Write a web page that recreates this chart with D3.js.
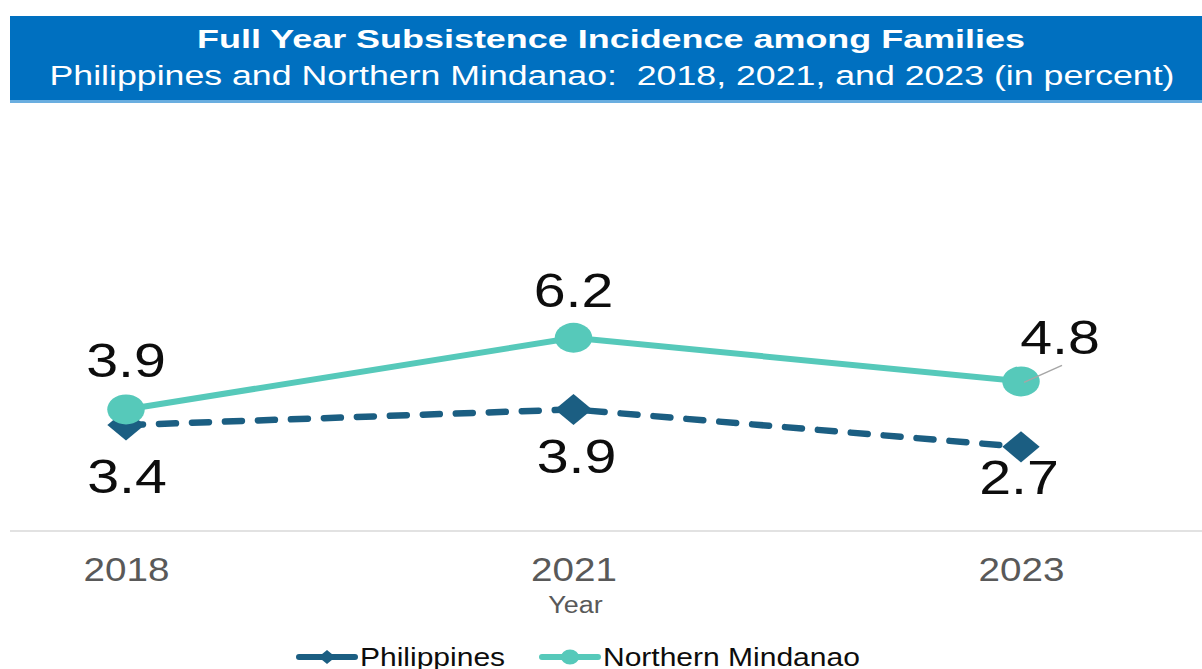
<!DOCTYPE html>
<html>
<head>
<meta charset="utf-8">
<script src="https://cdn.jsdelivr.net/npm/d3@7/dist/d3.min.js"></script>
<style>
  body { margin: 0; background: #fff; }
  svg text { font-family: "Liberation Sans", Arial, sans-serif; white-space: pre; }
</style>
</head>
<body>
<div id="chart"></div>
<script>
var width = 1202;
var height = 669;

var years = ["2018", "2021", "2023"];
var philippines = [3.4, 3.9, 2.7];
var northern = [3.9, 6.2, 4.8];
var seriesNames = ["Philippines", "Northern Mindanao"];
var titleLines = ["Full Year Subsistence Incidence among Families",
                  "Philippines and Northern Mindanao:  2018, 2021, and 2023 (in percent)"];
var xTitle = "Year";

var colPH = "#1b5e82";
var colNM = "#56c9ba";
var SX = 1.17; // the picture's text is a bit wide

var svg = d3.select("#chart")
            .append("svg")
            .attr("width", width)
            .attr("height", height);

// stretch text horizontally like the source
function widen(sel, k) {
  k = k || SX;
  sel.each(function(){
    var len = this.getComputedTextLength();
    d3.select(this).attr("textLength", len * k).attr("lengthAdjust", "spacingAndGlyphs");
  });
}

// title box
svg.append("rect")
   .attr("x", 10).attr("y", 16)
   .attr("width", width - 10).attr("height", 86)
   .attr("fill", "#0070c0");
svg.append("rect")
   .attr("x", 10).attr("y", 100)
   .attr("width", width - 10).attr("height", 3)
   .attr("fill", "#6aaee0");
svg.append("text")
   .attr("x", 611).attr("y", 48)
   .attr("text-anchor", "middle")
   .attr("font-size", 25).attr("font-weight", "bold")
   .attr("fill", "#fff")
   .text(titleLines[0])
   .attr("textLength", 828).attr("lengthAdjust", "spacingAndGlyphs");
svg.append("text")
   .attr("x", 612).attr("y", 85)
   .attr("text-anchor", "middle")
   .attr("font-size", 27)
   .attr("fill", "#fff")
   .text(titleLines[1])
   .attr("textLength", 1125).attr("lengthAdjust", "spacingAndGlyphs");

var xScale = d3.scalePoint()
               .domain(years)
               .range([126, 1021]);
var yScale = d3.scaleLinear()
               .domain([0, 12])
               .range([531, 157]);

// baseline
svg.append("line")
   .attr("x1", 10).attr("x2", width)
   .attr("y1", yScale(0)).attr("y2", yScale(0))
   .attr("stroke", "#d9d9d9").attr("stroke-width", 1.5);

var xAxis = d3.axisBottom(xScale).tickSize(0);
var gx = svg.append("g")
            .attr("transform", "translate(0," + yScale(0) + ")")
            .call(xAxis);
gx.select(".domain").remove();
gx.selectAll("text")
  .attr("y", 50).attr("dy", 0)
  .attr("font-size", 33)
  .attr("fill", "#595959")
  .style("font-family", "Liberation Sans, Arial, sans-serif")
  .call(widen);

svg.append("text")
   .attr("x", xScale("2021") + 2).attr("y", 613)
   .attr("text-anchor", "middle")
   .attr("font-size", 23)
   .attr("fill", "#595959")
   .text(xTitle)
   .call(widen);

var phData = years.map(function(y, i){ return {year: y, v: philippines[i]}; });
var nmData = years.map(function(y, i){ return {year: y, v: northern[i]}; });

var line = d3.line()
             .x(function(d){ return xScale(d.year); })
             .y(function(d){ return yScale(d.v); });

svg.append("path")
   .datum(phData)
   .attr("d", line)
   .attr("fill", "none")
   .attr("stroke", colPH)
   .attr("stroke-width", 6.5)
   .attr("stroke-dasharray", "17,16")
   .attr("stroke-linecap", "round");

var diamond = d3.symbol().type(d3.symbolSquare).size(484);
svg.selectAll(".ph-mark")
   .data(phData)
   .enter().append("path")
   .attr("class", "ph-mark")
   .attr("d", diamond)
   .attr("transform", function(d){
     return "translate(" + xScale(d.year) + "," + yScale(d.v) + ") scale(1.2,1) rotate(45)";
   })
   .attr("fill", colPH);

svg.append("path")
   .datum(nmData)
   .attr("d", line)
   .attr("fill", "none")
   .attr("stroke", colNM)
   .attr("stroke-width", 6);

var dot = d3.symbol().type(d3.symbolCircle).size(Math.PI * 15 * 15);
svg.selectAll(".nm-mark")
   .data(nmData)
   .enter().append("path")
   .attr("class", "nm-mark")
   .attr("d", dot)
   .attr("transform", function(d){
     return "translate(" + xScale(d.year) + "," + yScale(d.v) + ") scale(1.25,1)";
   })
   .attr("fill", colNM);

// data labels (last NM label sits off to the right with a leader line)
var nmLabelShift = [[0, -32], [0, -31], [39, -27]];
var phLabelShift = [[1, 68], [3, 64], [-2, 47]];

var last = nmData[2];
svg.append("line")
   .attr("x1", xScale(last.year) + 3).attr("y1", yScale(last.v) + 1)
   .attr("x2", xScale(last.year) + 41).attr("y2", yScale(last.v) - 16)
   .attr("stroke", "#a6a6a6").attr("stroke-width", 1.5);

svg.selectAll(".nm-lab")
   .data(nmData)
   .enter().append("text")
   .attr("class", "nm-lab")
   .attr("x", function(d, i){ return xScale(d.year) + nmLabelShift[i][0]; })
   .attr("y", function(d, i){ return yScale(d.v) + nmLabelShift[i][1]; })
   .attr("text-anchor", "middle")
   .attr("font-size", 49)
   .attr("fill", "#0d0d0d")
   .text(function(d){ return d.v.toFixed(1); })
   .call(widen);

svg.selectAll(".ph-lab")
   .data(phData)
   .enter().append("text")
   .attr("class", "ph-lab")
   .attr("x", function(d, i){ return xScale(d.year) + phLabelShift[i][0]; })
   .attr("y", function(d, i){ return yScale(d.v) + phLabelShift[i][1]; })
   .attr("text-anchor", "middle")
   .attr("font-size", 49)
   .attr("fill", "#0d0d0d")
   .text(function(d){ return d.v.toFixed(1); })
   .call(widen);

// legend
var legY = 657;
var leg = [{x: 299, name: seriesNames[0], col: colPH, shape: "d"},
           {x: 542, name: seriesNames[1], col: colNM, shape: "c"}];
leg.forEach(function(l){
  svg.append("line")
     .attr("x1", l.x).attr("x2", l.x + 56)
     .attr("y1", legY).attr("y2", legY)
     .attr("stroke", l.col).attr("stroke-width", 6)
     .attr("stroke-linecap", "round");
  var sym = l.shape == "d" ? d3.symbol().type(d3.symbolSquare).size(100)
                           : d3.symbol().type(d3.symbolCircle).size(180);
  svg.append("path")
     .attr("d", sym)
     .attr("transform", "translate(" + (l.x + 28) + "," + legY + ")" + (l.shape == "d" ? " scale(1.2,1) rotate(45)" : " scale(1.2,1)"))
     .attr("fill", l.col);
  svg.append("text")
     .attr("x", l.x + 61).attr("y", legY + 9)
     .attr("font-size", 25)
     .attr("fill", "#0d0d0d")
     .text(l.name)
     .call(widen, 1.2);
});
</script>
</body>
</html>
